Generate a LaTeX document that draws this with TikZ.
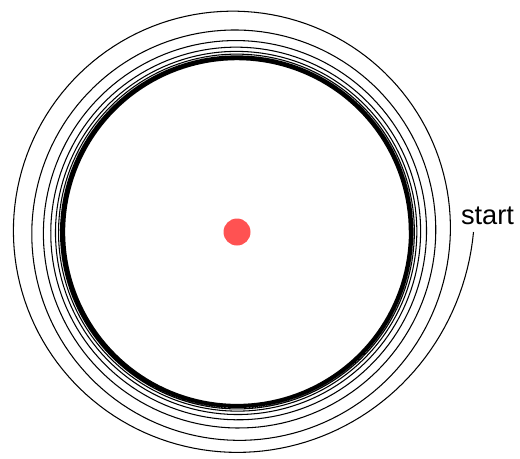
\documentclass[tikz,border=0pt]{standalone}
\usepackage{fontspec}
\setmainfont{Liberation Sans}
\definecolor{dotRed}{HTML}{FF5252}

\begin{document}
\begin{tikzpicture}[
  x=0.02cm,y=-0.02cm,
  orbit/.style={line width=0.6pt,black},
  fixpt/.style={circle,fill=dotRed,inner sep=0pt,minimum size=0.54cm},
  lbl/.style={font=\fontsize{15.5}{18}\selectfont}]
  \useasboundingbox (0,0) rectangle (520,458);
  % equilibrium and the orbit winding onto the limit cycle
  \node[fixpt] (eq) at (237,232) {};
  \draw[orbit] plot[domain=0:5400,samples=2400]
    ({237+(171.5+(60*exp(-0.075*\x/57.2958)+5*exp(-0.02*\x/57.2958))*(1-0.27*sin(\x)*exp(-\x/171.9)))*cos(\x)},
     {232+(171.5+(60*exp(-0.075*\x/57.2958)+5*exp(-0.02*\x/57.2958))*(1-0.27*sin(\x)*exp(-\x/171.9)))*sin(\x)});
  \node[lbl,anchor=base] (start) at (487.5,224) {start};
\end{tikzpicture}
\end{document}
